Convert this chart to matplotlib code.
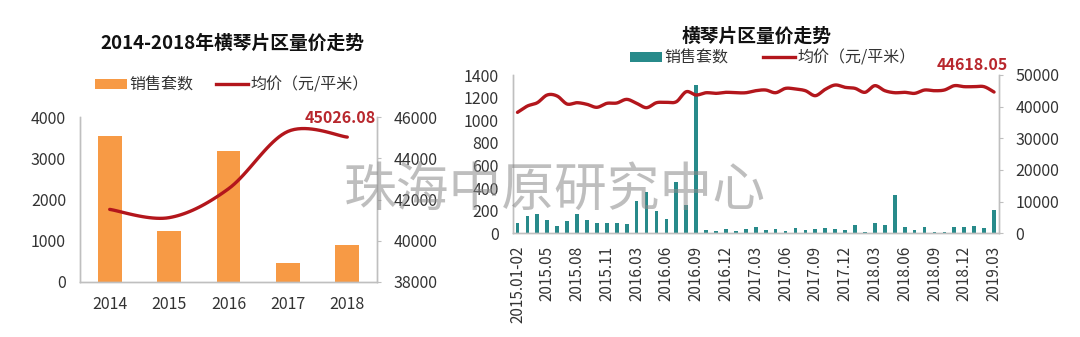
import numpy as np
import matplotlib
matplotlib.use("Agg")
import matplotlib.pyplot as plt
from matplotlib.patches import Patch
from matplotlib.lines import Line2D

plt.rcParams['font.family'] = ['Noto Sans CJK SC', 'DejaVu Sans']

# ---- annual data (2014-2018) ----
years = ['2014', '2015', '2016', '2017', '2018']
annual_sales = [3546, 1241, 3180, 470, 909]
annual_price = [41520, 41120, 42520, 45300, 45026.08]

# ---- monthly data (2015.01-02 to 2019.03) ----
month_labels = [
    '2015.01-02', '2015.03', '2015.04', '2015.05', '2015.06', '2015.07', '2015.08',
    '2015.09', '2015.10', '2015.11', '2015.12',
    '2016.01-02', '2016.03', '2016.04', '2016.05', '2016.06', '2016.07', '2016.08',
    '2016.09', '2016.10', '2016.11', '2016.12',
    '2017.01', '2017.02', '2017.03', '2017.04', '2017.05', '2017.06', '2017.07',
    '2017.08', '2017.09', '2017.10', '2017.11', '2017.12',
    '2018.01', '2018.02', '2018.03', '2018.04', '2018.05', '2018.06', '2018.07',
    '2018.08', '2018.09', '2018.10', '2018.11', '2018.12',
    '2019.01', '2019.02', '2019.03',
]
monthly_sales = [
    90, 150, 175, 115, 65, 105, 170, 120, 90, 95, 90,
    78, 282, 362, 195, 125, 450, 250, 1315, 30, 18, 38,
    18, 38, 56, 30, 36, 18, 44, 33, 35, 50, 40, 30,
    70, 15, 95, 72, 342, 58, 30, 52, 15, 15, 52, 52,
    66, 45, 210,
]
monthly_price = [
    38200, 40200, 41250, 43700, 43360, 40830, 41250, 40740, 39790, 41050, 41150,
    42310, 41050, 39680, 41250, 41360, 41550, 44720, 43680, 44400, 44200, 44530,
    44400, 44400, 45040, 45260, 44400, 45780, 45570, 45040, 43470, 45470, 46840, 46100,
    45780, 44530, 46630, 45040, 44400, 44530, 44200, 45260, 45040, 45260, 46630, 46310,
    46310, 46310, 44618.05,
]

BAR_ORANGE = '#F79A45'
BAR_TEAL = '#278A8A'
LINE_RED = '#B3161C'
LABEL_RED = '#B8272D'
SPINE = '#BFBFBF'
TICK_TXT = '#333333'


def smooth_curve(xs, ys, n=20):
    """Catmull-Rom curve through the points (Excel-style smoothed line)."""
    x = np.asarray(xs, float)
    y = np.asarray(ys, float)
    px = np.concatenate([[x[0]], x, [x[-1]]])
    py = np.concatenate([[y[0]], y, [y[-1]]])
    out_x, out_y = [], []
    for i in range(len(x) - 1):
        t = np.linspace(0, 1, n, endpoint=(i == len(x) - 2))
        for p, out in ((px, out_x), (py, out_y)):
            p0, p1, p2, p3 = p[i], p[i + 1], p[i + 2], p[i + 3]
            out.append(0.5 * (2 * p1 + (-p0 + p2) * t
                              + (2 * p0 - 5 * p1 + 4 * p2 - p3) * t ** 2
                              + (-p0 + 3 * p1 - 3 * p2 + p3) * t ** 3))
    return np.concatenate(out_x), np.concatenate(out_y)


def style_axes(ax, ax2):
    for sp in ('top',):
        ax.spines[sp].set_visible(False)
        ax2.spines[sp].set_visible(False)
    for a in (ax, ax2):
        for sp in ('left', 'right', 'bottom'):
            a.spines[sp].set_color(SPINE)
            a.spines[sp].set_linewidth(1.0)
    ax.tick_params(axis='y', length=0, pad=10, labelsize=11.5, labelcolor=TICK_TXT)
    ax.tick_params(axis='x', length=0, labelcolor=TICK_TXT)
    ax2.tick_params(axis='y', length=3, color=SPINE, pad=9, labelsize=11.5,
                    labelcolor=TICK_TXT)


fig = plt.figure(figsize=(10.8, 3.37), dpi=100)
fig.patch.set_facecolor('white')

# ================= left: annual =================
axL = fig.add_axes([80 / 1080, 55 / 337, 297 / 1080, 165 / 337])
axL2 = axL.twinx()
xl = np.arange(len(years))
axL.bar(xl, annual_sales, width=0.4, color=BAR_ORANGE, zorder=2)
axL.set_xlim(-0.5, len(years) - 0.5)
axL.set_ylim(0, 4000)
axL.set_yticks(range(0, 4001, 1000))
axL.set_xticks(xl)
axL.set_xticklabels(years)
axL.tick_params(axis='x', pad=10, labelsize=11.5)

sx, sy = smooth_curve(xl, annual_price)
axL2.plot(sx, sy, color=LINE_RED, lw=2.4, solid_capstyle='round', zorder=3)
axL2.set_ylim(38000, 46000)
axL2.set_yticks(range(38000, 46001, 2000))
style_axes(axL, axL2)
axL2.annotate(f'{annual_price[-1]:.2f}', xy=(xl[-1], annual_price[-1]),
              xytext=(-5, 8), textcoords='offset points', ha='center', va='bottom',
              color=LABEL_RED, fontsize=11.5, fontweight='bold')

fig.text(232 / 1080, 1 - 43 / 337, '2014-2018年横琴片区量价走势', ha='center',
         va='center', fontsize=13.5, fontweight='bold', color='#111111')
handles_L = [Patch(facecolor=BAR_ORANGE, edgecolor='none'),
             Line2D([0], [0], color=LINE_RED, lw=2.4)]
axL.legend(handles_L, ['销售套数', '均价（元/平米）'], ncol=2, frameon=False,
           loc='center', bbox_to_anchor=(232 / 1080, 1 - 85 / 337),
           bbox_transform=fig.transFigure, fontsize=11.5, handlelength=2.0,
           handleheight=0.55, handletextpad=0.15, columnspacing=1.4,
           labelcolor='#333333')

# ================= right: monthly =================
axR = fig.add_axes([512.5 / 1080, 103.7 / 337, 486.5 / 1080, 158.3 / 337])
axR2 = axR.twinx()
xm = np.arange(len(month_labels))
axR.bar(xm, monthly_sales, width=0.38, color=BAR_TEAL, zorder=2)
axR.set_xlim(-0.5, len(month_labels) - 0.5)
axR.set_ylim(0, 1400)
axR.set_yticks(range(0, 1401, 200))
axR.set_xticks(xm[::3])
axR.set_xticklabels(month_labels[::3], rotation=90)
axR.tick_params(axis='x', pad=9, labelsize=11)

mx, my = smooth_curve(xm, monthly_price, n=12)
axR2.plot(mx, my, color=LINE_RED, lw=2.4, solid_capstyle='round', zorder=3)
axR2.set_ylim(0, 50000)
axR2.set_yticks(range(0, 50001, 10000))
style_axes(axR, axR2)
axR2.annotate(f'{monthly_price[-1]:.2f}', xy=(xm[-1], monthly_price[-1]),
              xytext=(-16, 14), textcoords='offset points', ha='center', va='bottom',
              color=LABEL_RED, fontsize=11.5, fontweight='bold')

fig.text(757 / 1080, 1 - 36 / 337, '横琴片区量价走势', ha='center', va='center',
         fontsize=13.5, fontweight='bold', color='#111111')
handles_R = [Patch(facecolor=BAR_TEAL, edgecolor='none'),
             Line2D([0], [0], color=LINE_RED, lw=2.4)]
axR.legend(handles_R, ['销售套数', '均价（元/平米）'], ncol=2, frameon=False,
           loc='center', bbox_to_anchor=(773 / 1080, 1 - 58 / 337),
           bbox_transform=fig.transFigure, fontsize=11.5, handlelength=2.0,
           handleheight=0.55, handletextpad=0.15, columnspacing=2.2,
           labelcolor='#333333')

# watermark
fig.text(555 / 1080, 1 - 190 / 337, '珠海中原研究中心', ha='center', va='center',
         fontsize=38, color='#8a8a8a', alpha=0.55, zorder=10)

fig.savefig('out.png', dpi=100, facecolor='white')
